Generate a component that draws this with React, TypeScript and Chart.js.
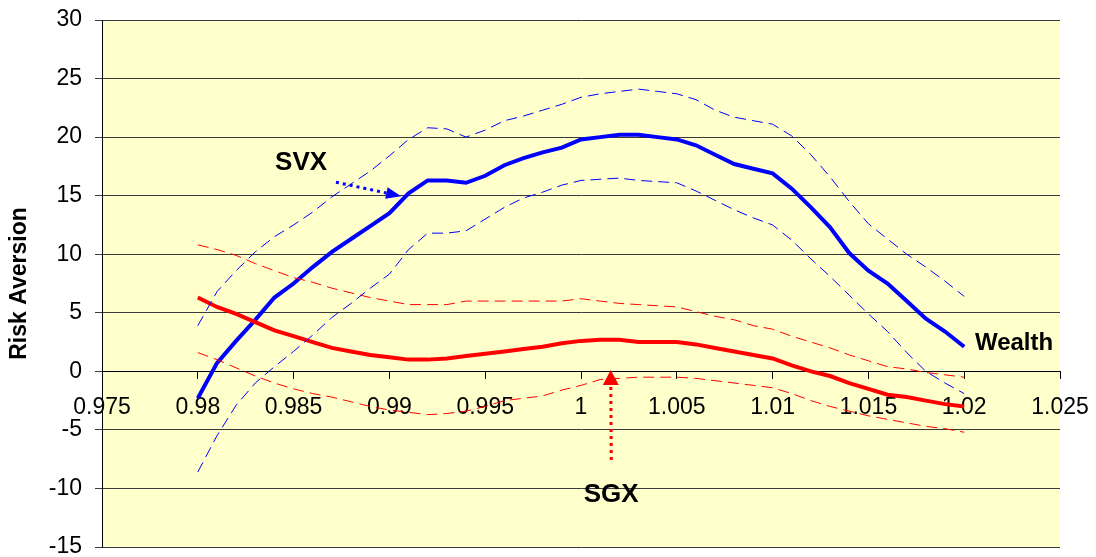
import React, { useEffect, useRef } from "react";
import { Chart, registerables } from "chart.js";

Chart.register(...registerables);

// ---- Data ----
const wealth = [
  0.98, 0.981, 0.982, 0.983, 0.984, 0.985, 0.986, 0.987, 0.988, 0.989,
  0.99, 0.991, 0.992, 0.993, 0.994, 0.995, 0.996, 0.997, 0.998, 0.999,
  1.0, 1.001, 1.002, 1.003, 1.004, 1.005, 1.006, 1.007, 1.008, 1.009,
  1.01, 1.011, 1.012, 1.013, 1.014, 1.015, 1.016, 1.017, 1.018, 1.019, 1.02,
];

const svxMean = [
  -2.3, 0.7, 2.6, 4.4, 6.3, 7.5, 8.9, 10.2, 11.3, 12.4,
  13.5, 15.2, 16.3, 16.3, 16.1, 16.7, 17.6, 18.2, 18.7, 19.1,
  19.8, 20.0, 20.2, 20.2, 20.0, 19.8, 19.3, 18.5, 17.7, 17.3,
  16.9, 15.6, 14.0, 12.3, 10.1, 8.6, 7.5, 6.0, 4.5, 3.4, 2.1,
];

const svxUpper = [
  3.9, 6.8, 8.6, 10.2, 11.5, 12.5, 13.6, 14.9, 16.0, 17.1,
  18.4, 19.8, 20.8, 20.7, 20.0, 20.6, 21.4, 21.8, 22.3, 22.8,
  23.4, 23.7, 23.9, 24.1, 23.9, 23.7, 23.2, 22.3, 21.7, 21.4,
  21.1, 20.1, 18.5, 16.6, 14.5, 12.6, 11.3, 10.0, 8.9, 7.7, 6.4,
];

const svxLower = [
  -8.6, -5.5, -2.9, -1.0, 0.4, 1.7, 3.1, 4.6, 5.8, 7.1,
  8.3, 10.4, 11.8, 11.8, 12.0, 13.0, 14.0, 14.8, 15.3, 15.9,
  16.3, 16.4, 16.5, 16.3, 16.2, 16.1, 15.4, 14.6, 13.8, 13.1,
  12.5, 11.2, 9.6, 8.1, 6.5, 4.9, 3.4, 1.6, 0.0, -1.0, -1.9,
];

const sgxMean = [
  6.3, 5.5, 4.9, 4.2, 3.5, 3.0, 2.5, 2.0, 1.7, 1.4,
  1.2, 1.0, 1.0, 1.1, 1.3, 1.5, 1.7, 1.9, 2.1, 2.4,
  2.6, 2.7, 2.7, 2.5, 2.5, 2.5, 2.3, 2.0, 1.7, 1.4,
  1.1, 0.5, 0.0, -0.4, -1.0, -1.5, -2.0, -2.2, -2.5, -2.8, -3.0,
];

const sgxUpper = [
  10.8, 10.4, 9.9, 9.2, 8.6, 8.0, 7.6, 7.1, 6.7, 6.3,
  6.0, 5.7, 5.7, 5.7, 6.0, 6.0, 6.0, 6.0, 6.0, 6.0,
  6.2, 6.0, 5.8, 5.7, 5.6, 5.5, 5.1, 4.7, 4.4, 3.9,
  3.6, 3.0, 2.5, 2.0, 1.4, 0.9, 0.4, 0.2, -0.1, -0.3, -0.5,
];

const sgxLower = [
  1.6, 1.0, 0.3, -0.4, -1.0, -1.5, -1.9, -2.2, -2.6, -3.0,
  -3.3, -3.5, -3.7, -3.6, -3.4, -3.0, -2.5, -2.3, -2.1, -1.6,
  -1.2, -0.7, -0.6, -0.5, -0.5, -0.5, -0.6, -0.8, -1.0, -1.2,
  -1.4, -1.9, -2.5, -3.0, -3.4, -3.8, -4.1, -4.4, -4.7, -4.9, -5.2,
];

const xTickValues = [0.975, 0.98, 0.985, 0.99, 0.995, 1.0, 1.005, 1.01, 1.015, 1.02, 1.025];
const yTickValues = [-15, -10, -5, 0, 5, 10, 15, 20, 25, 30];

const yAxisTitle = "Risk Aversion";
const svxLabel = "SVX";
const sgxLabel = "SGX";
const wealthLabel = "Wealth";

// annotation anchors in data coordinates
const svxLabelAt = { x: 0.98539, y: 17.77 };
const svxArrowFrom = { x: 0.98721, y: 16.15 };
const svxArrowTo = { x: 0.99061, y: 14.96 };
const sgxLabelAt = { x: 1.00157, y: -10.55 };
const sgxArrowFrom = { x: 1.00158, y: -7.58 };
const sgxArrowTo = { x: 1.00155, y: 0.11 };
const wealthLabelAt = { x: 1.02056, y: 2.41 };

const FONT = "'Liberation Sans', Arial, Helvetica, sans-serif";

const toPts = (ys: number[]) => wealth.map((x, i) => ({ x, y: ys[i] }));

function drawArrow(
  ctx: CanvasRenderingContext2D,
  x1: number, y1: number, x2: number, y2: number,
  color: string, headLen: number, headHalf: number, lw: number, dash: number[]
) {
  const ang = Math.atan2(y2 - y1, x2 - x1);
  const bx = x2 - headLen * Math.cos(ang);
  const by = y2 - headLen * Math.sin(ang);
  ctx.save();
  ctx.strokeStyle = color;
  ctx.fillStyle = color;
  ctx.lineWidth = lw;
  ctx.setLineDash(dash);
  ctx.beginPath();
  ctx.moveTo(x1, y1);
  ctx.lineTo(bx, by);
  ctx.stroke();
  ctx.setLineDash([]);
  ctx.beginPath();
  ctx.moveTo(x2, y2);
  ctx.lineTo(bx + headHalf * Math.sin(ang), by - headHalf * Math.cos(ang));
  ctx.lineTo(bx - headHalf * Math.sin(ang), by + headHalf * Math.cos(ang));
  ctx.closePath();
  ctx.fill();
  ctx.restore();
}

const bgPlugin = {
  id: "plotBg",
  beforeDraw(chart: any) {
    const { ctx, chartArea } = chart;
    ctx.save();
    ctx.fillStyle = "#FFFFCC";
    ctx.fillRect(chartArea.left, chartArea.top, chartArea.right - chartArea.left, chartArea.bottom - chartArea.top);
    ctx.restore();
  },
};

const annPlugin = {
  id: "annotations",
  afterDraw(chart: any) {
    const { ctx } = chart;
    const xs = chart.scales.x;
    const ys = chart.scales.y;
    const px = (p: { x: number; y: number }) => [xs.getPixelForValue(p.x), ys.getPixelForValue(p.y)];
    ctx.save();
    ctx.fillStyle = "#000";
    ctx.textBaseline = "middle";
    ctx.font = `bold 26px ${FONT}`;
    ctx.textAlign = "center";
    let [a, b] = px(svxLabelAt);
    ctx.fillText(svxLabel, a, b);
    [a, b] = px(sgxLabelAt);
    ctx.fillText(sgxLabel, a, b);
    ctx.font = `bold 24px ${FONT}`;
    ctx.textAlign = "left";
    [a, b] = px(wealthLabelAt);
    ctx.fillText(wealthLabel, a, b);
    ctx.restore();

    const [s1x, s1y] = px(svxArrowFrom);
    const [s2x, s2y] = px(svxArrowTo);
    drawArrow(ctx, s1x, s1y, s2x, s2y, "#0000FF", 15, 6, 3, [3, 4]);
    const [g1x, g1y] = px(sgxArrowFrom);
    const [g2x, g2y] = px(sgxArrowTo);
    drawArrow(ctx, g1x, g1y, g2x, g2y, "#FF0000", 15, 8, 3, [3, 4]);
  },
};

export default function App() {
  const ref = useRef<HTMLCanvasElement | null>(null);

  useEffect(() => {
    if (!ref.current) return;
    const dashed = [11, 6];
    const chart = new Chart(ref.current, {
      type: "line",
      data: {
        datasets: [
          { label: "SVX upper", data: toPts(svxUpper), borderColor: "#0000FF", borderWidth: 1, borderDash: dashed, pointRadius: 0, fill: false, tension: 0 },
          { label: "SVX lower", data: toPts(svxLower), borderColor: "#0000FF", borderWidth: 1, borderDash: dashed, pointRadius: 0, fill: false, tension: 0 },
          { label: "SGX upper", data: toPts(sgxUpper), borderColor: "#FF0000", borderWidth: 1, borderDash: dashed, pointRadius: 0, fill: false, tension: 0 },
          { label: "SGX lower", data: toPts(sgxLower), borderColor: "#FF0000", borderWidth: 1, borderDash: dashed, pointRadius: 0, fill: false, tension: 0 },
          { label: "SGX", data: toPts(sgxMean), borderColor: "#FF0000", borderWidth: 4, pointRadius: 0, fill: false, tension: 0 },
          { label: "SVX", data: toPts(svxMean), borderColor: "#0000FF", borderWidth: 4, pointRadius: 0, fill: false, tension: 0 },
        ],
      },
      options: {
        animation: false,
        responsive: true,
        maintainAspectRatio: false,
        layout: { padding: { left: 0, right: 36, top: 20, bottom: 10 } },
        plugins: { legend: { display: false }, tooltip: { enabled: false }, title: { display: false } },
        scales: {
          x: {
            type: "linear",
            position: { y: 0 } as any,
            min: 0.975,
            max: 1.025,
            afterBuildTicks: (scale: any) => {
              scale.ticks = xTickValues.map((v) => ({ value: v }));
            },
            afterFit: (scale: any) => {
              scale.height = 0;
              scale.paddingLeft = 0;
              scale.paddingRight = 0;
              scale.paddingTop = 0;
              scale.paddingBottom = 0;
            },
            ticks: {
              autoSkip: false,
              maxRotation: 0,
              padding: 16,
              color: "#000",
              font: { family: FONT, size: 23 },
              callback: (v: any) => String(Number(Number(v).toFixed(3))),
            },
            grid: { drawOnChartArea: false, drawTicks: true, tickLength: 7, color: "#000", lineWidth: 1 },
            border: { display: true, color: "#000", width: 1 },
          },
          y: {
            type: "linear",
            position: "left",
            min: -15,
            max: 30,
            afterBuildTicks: (scale: any) => {
              scale.ticks = yTickValues.map((v) => ({ value: v }));
            },
            afterFit: (scale: any) => {
              scale.width = 102;
              scale.paddingLeft = 0;
              scale.paddingRight = 0;
              scale.paddingTop = 0;
              scale.paddingBottom = 0;
            },
            ticks: {
              padding: 13,
              color: "#000",
              font: { family: FONT, size: 23 },
            },
            grid: { drawOnChartArea: true, drawTicks: true, tickLength: 7, color: "#3a3a3a", lineWidth: 1 },
            border: { display: true, color: "#000", width: 1 },
            title: {
              display: true,
              text: yAxisTitle,
              color: "#000",
              font: { family: FONT, size: 23, weight: "bold" },
              padding: { top: 6, bottom: 0 },
            },
          },
        },
      },
      plugins: [bgPlugin, annPlugin],
    } as any);
    return () => chart.destroy();
  }, []);

  return (
    <div style={{ position: "absolute", left: 0, top: 0, width: 1096, height: 557, background: "#fff" }}>
      <canvas ref={ref} />
    </div>
  );
}
